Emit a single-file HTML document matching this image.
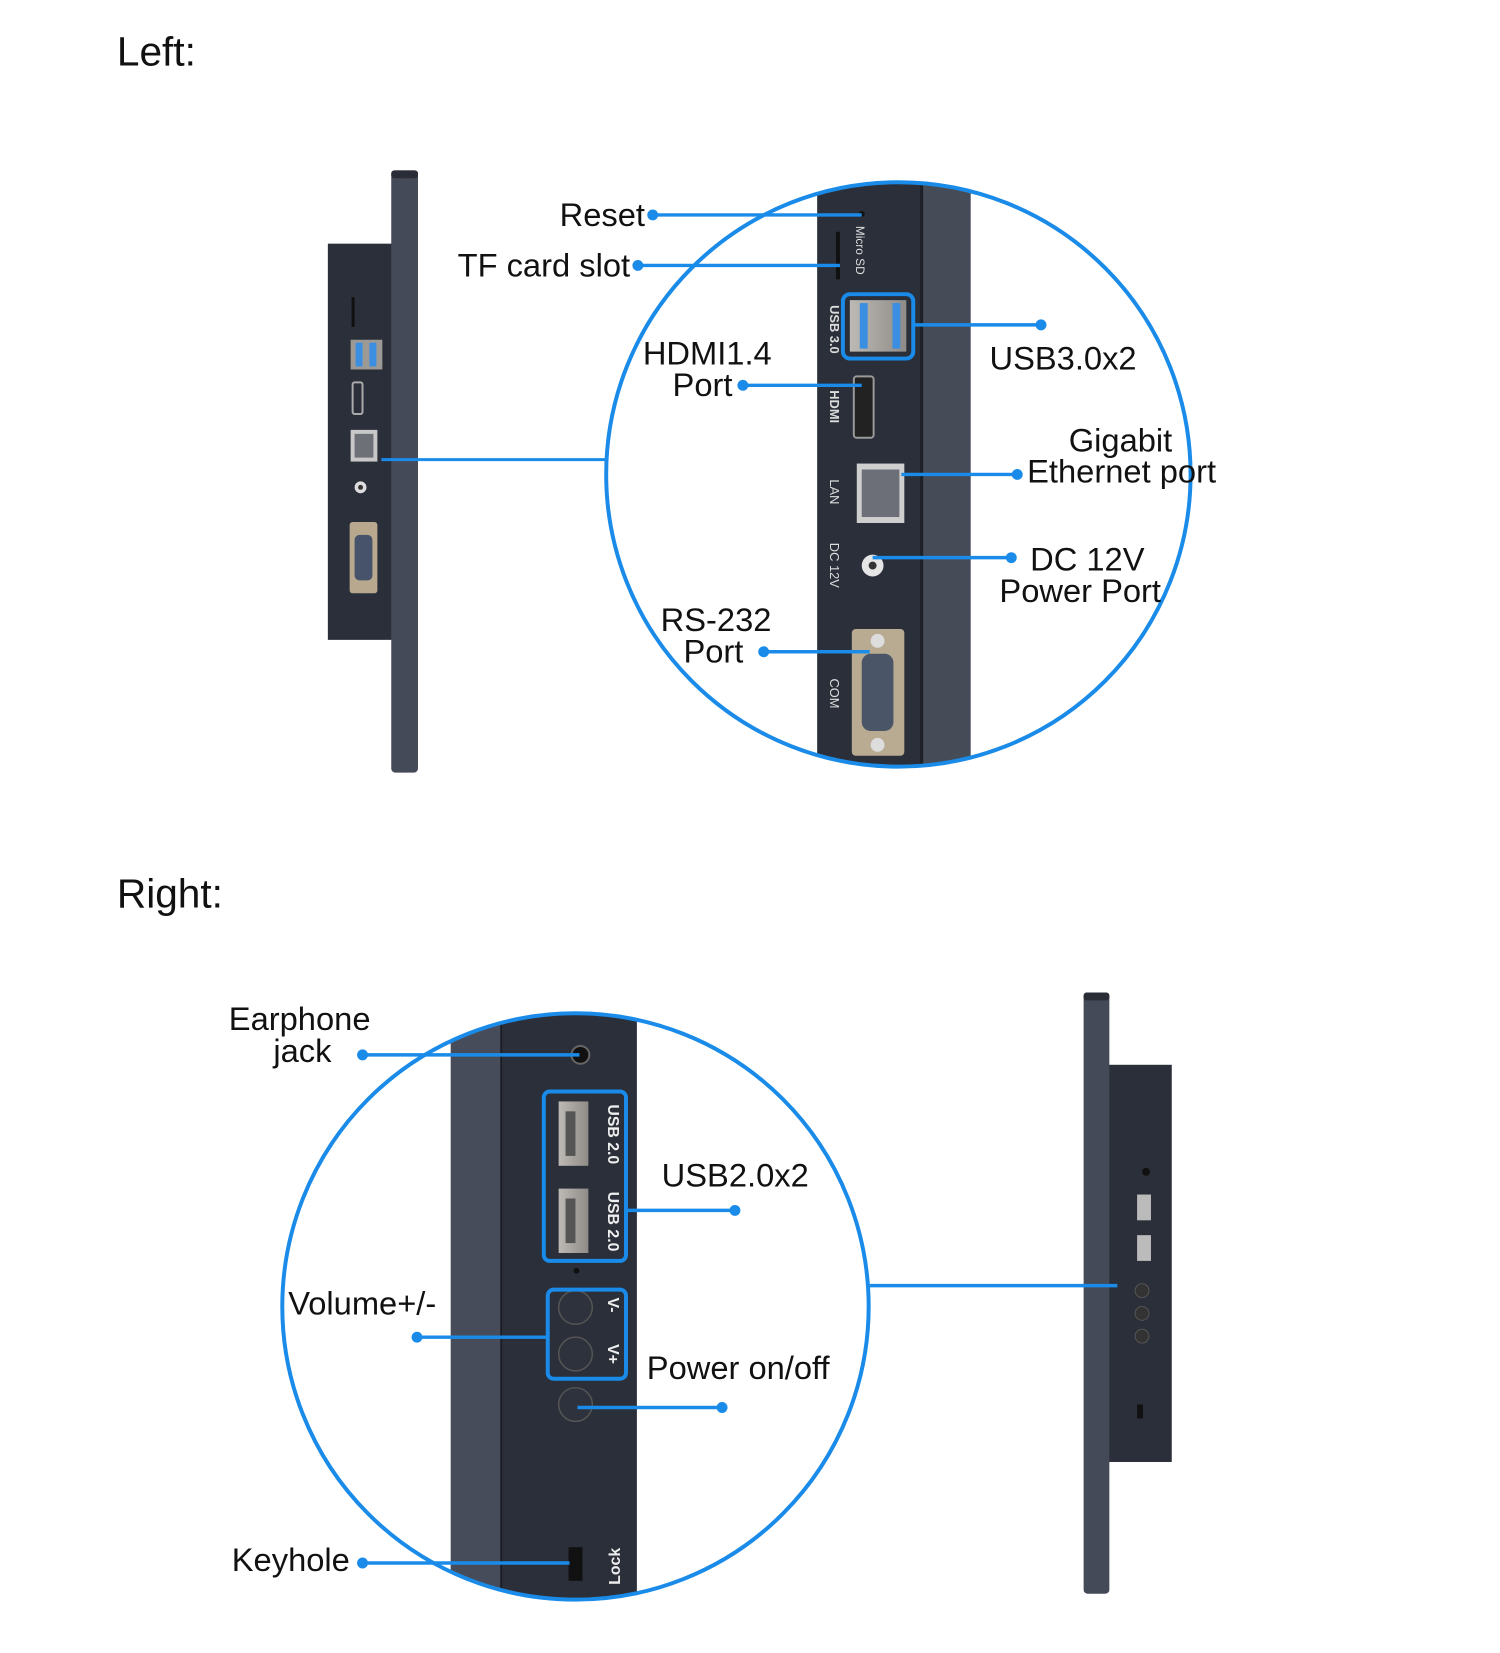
<!DOCTYPE html>
<html><head><meta charset="utf-8"><style>
html,body{margin:0;padding:0;background:#fff;}
svg{display:block;}
text{font-family:"Liberation Sans","DejaVu Sans",sans-serif;}
</style></head><body>
<svg width="1500" height="1653" viewBox="0 0 1500 1653" xmlns="http://www.w3.org/2000/svg">
<defs>
<clipPath id="c1"><circle cx="907" cy="479" r="295"/></clipPath>
<clipPath id="c2"><circle cx="581" cy="1319" r="296"/></clipPath>
<linearGradient id="usb" x1="0" x2="1"><stop offset="0" stop-color="#bdbab5"/><stop offset="1" stop-color="#8f8c88"/></linearGradient>
</defs>
<g transform="scale(0.9905)">
<g fill="#111" font-size="41">
<text x="118" y="66" style="font-weight:500">Left:</text>
<text x="118" y="916" style="font-weight:500">Right:</text>
</g>

<!-- Left small device -->
<rect x="331" y="246" width="66" height="400" fill="#2b2f3a"/>
<rect x="395" y="172" width="27" height="608" rx="4" fill="#454a58"/>
<rect x="395" y="172" width="27" height="8" rx="3" fill="#2a2d36"/>
<rect x="355" y="300" width="3" height="30" fill="#111"/>
<rect x="354" y="343" width="32" height="30" fill="#9d9a95"/>
<rect x="359" y="346" width="7" height="24" fill="#3b8ee0"/><rect x="373" y="346" width="7" height="24" fill="#3b8ee0"/>
<rect x="356" y="386" width="10" height="32" rx="2" fill="none" stroke="#aaa" stroke-width="2"/>
<rect x="354" y="434" width="27" height="32" fill="#c8c8c8"/><rect x="358" y="438" width="19" height="24" fill="#6e7078"/>
<circle cx="364" cy="492" r="6" fill="#ddd"/><circle cx="364" cy="492" r="2.5" fill="#333"/>
<rect x="353" y="527" width="28" height="72" rx="3" fill="#b8a88e"/><rect x="358" y="540" width="18" height="46" rx="5" fill="#46536a"/>
<line x1="385" y1="464" x2="612" y2="464" stroke="#1a8be8" stroke-width="3"/>

<!-- Left circle -->
<g clip-path="url(#c1)">
<rect x="825" y="180" width="107" height="600" fill="#2a2f3a"/>
<rect x="930" y="180" width="50" height="600" fill="#464b58"/>
<rect x="929" y="180" width="3" height="600" fill="#1c1f26"/>
<circle cx="870" cy="216" r="3" fill="#111"/>
<rect x="844" y="234" width="4" height="48" fill="#111"/>
<rect x="858" y="303" width="57" height="52" fill="url(#usb)"/>
<rect x="868" y="306" width="8" height="46" fill="#3b8ee0"/><rect x="901" y="306" width="8" height="46" fill="#3b8ee0"/>
<rect x="862" y="380" width="20" height="62" rx="3" fill="#222" stroke="#9a9a9a" stroke-width="2"/>
<rect x="865" y="468" width="48" height="60" fill="#cfcfcf"/><rect x="870" y="474" width="38" height="48" fill="#6c6f78"/>
<circle cx="881" cy="571" r="11" fill="#e5e5e5"/><circle cx="881" cy="571" r="4" fill="#333"/>
<rect x="860" y="635" width="53" height="128" rx="4" fill="#b9ab92"/><rect x="870" y="660" width="32" height="78" rx="9" fill="#4a5568"/>
<circle cx="886" cy="647" r="7" fill="#ddd"/><circle cx="886" cy="752" r="7" fill="#ddd"/>
<g fill="#ddd" font-size="12">
<text transform="translate(864,228) rotate(90)">Micro SD</text>
<text transform="translate(838,308) rotate(90)" font-weight="bold" font-size="13">USB 3.0</text>
<text transform="translate(838,394) rotate(90)" font-weight="bold" font-size="13">HDMI</text>
<text transform="translate(838,484) rotate(90)" font-size="13">LAN</text>
<text transform="translate(838,548) rotate(90)" font-size="13">DC 12V</text>
<text transform="translate(838,685) rotate(90)" font-size="13">COM</text>
</g>
</g>
<circle cx="907" cy="479" r="295" fill="none" stroke="#1a8be8" stroke-width="4"/>
<rect x="851" y="297" width="71" height="65" rx="7" fill="none" stroke="#1a8be8" stroke-width="4"/>

<g stroke="#1a8be8" stroke-width="3.5" fill="none">
<line x1="659" y1="217" x2="870" y2="217"/>
<line x1="644" y1="268" x2="848" y2="268"/>
<line x1="922" y1="328" x2="1051" y2="328"/>
<line x1="750" y1="389" x2="870" y2="389"/>
<line x1="910" y1="479" x2="1027" y2="479"/>
<line x1="881" y1="563" x2="1021" y2="563"/>
<line x1="771" y1="658" x2="878" y2="658"/>
</g>
<g fill="#1a8be8">
<circle cx="659" cy="217" r="5.5"/><circle cx="644" cy="268" r="5.5"/><circle cx="1051" cy="328" r="5.5"/>
<circle cx="750" cy="389" r="5.5"/><circle cx="1027" cy="479" r="5.5"/><circle cx="1021" cy="563" r="5.5"/><circle cx="771" cy="658" r="5.5"/>
</g>
<g fill="#111" font-size="33">
<text x="565" y="228">Reset</text>
<text x="462" y="279">TF card slot</text>
<text x="999" y="373">USB3.0x2</text>
<text x="649" y="368">HDMI1.4</text>
<text x="679" y="400">Port</text>
<text x="1079" y="456">Gigabit</text>
<text x="1037" y="487">Ethernet port</text>
<text x="1040" y="576">DC 12V</text>
<text x="1009" y="608">Power Port</text>
<text x="667" y="637">RS-232</text>
<text x="690" y="669">Port</text>
</g>

<!-- Right circle -->
<g clip-path="url(#c2)">
<rect x="455" y="1020" width="52" height="600" fill="#474c5a"/>
<rect x="505" y="1020" width="3" height="600" fill="#1c1f26"/>
<rect x="507" y="1020" width="136" height="600" fill="#2a2f3a"/>
<circle cx="586" cy="1065" r="9" fill="#111" stroke="#666" stroke-width="2"/>
<rect x="564" y="1112" width="30" height="65" fill="url(#usb)"/><rect x="571" y="1122" width="10" height="45" fill="#555"/>
<rect x="564" y="1200" width="30" height="65" fill="url(#usb)"/><rect x="571" y="1210" width="10" height="45" fill="#555"/>
<circle cx="582" cy="1283" r="3" fill="#111"/>
<circle cx="581" cy="1320" r="17" fill="#2e323c" stroke="#555" stroke-width="1.5"/>
<circle cx="581" cy="1367" r="17" fill="#2e323c" stroke="#555" stroke-width="1.5"/>
<circle cx="581" cy="1418" r="17" fill="#2e323c" stroke="#555" stroke-width="1.5"/>
<rect x="574" y="1562" width="14" height="34" fill="#111"/>
<g fill="#eee" font-size="16" font-weight="bold">
<text transform="translate(614,1115) rotate(90)">USB 2.0</text>
<text transform="translate(614,1203) rotate(90)">USB 2.0</text>
<text transform="translate(614,1310) rotate(90)">V-</text>
<text transform="translate(614,1357) rotate(90)">V+</text>
<text transform="translate(626,1600) rotate(-90)">Lock</text>
</g>
</g>
<circle cx="581" cy="1319" r="296" fill="none" stroke="#1a8be8" stroke-width="4"/>
<rect x="549" y="1102" width="83" height="171" rx="6" fill="none" stroke="#1a8be8" stroke-width="4"/>
<rect x="553" y="1302" width="79" height="90" rx="6" fill="none" stroke="#1a8be8" stroke-width="4"/>

<!-- Right small device -->
<rect x="1119" y="1075" width="64" height="401" fill="#2b2f3a"/>
<rect x="1094" y="1002" width="26" height="607" rx="4" fill="#454a58"/>
<rect x="1094" y="1002" width="26" height="8" rx="3" fill="#2a2d36"/>
<circle cx="1157" cy="1183" r="4" fill="#111"/>
<rect x="1148" y="1206" width="14" height="26" fill="#bbb"/>
<rect x="1148" y="1247" width="14" height="26" fill="#bbb"/>
<circle cx="1153" cy="1303" r="7" fill="#333" stroke="#555"/>
<circle cx="1153" cy="1326" r="7" fill="#333" stroke="#555"/>
<circle cx="1153" cy="1349" r="7" fill="#333" stroke="#555"/>
<rect x="1148" y="1418" width="6" height="14" fill="#111"/>

<g stroke="#1a8be8" stroke-width="3.5" fill="none">
<line x1="878" y1="1298" x2="1128" y2="1298"/>
<line x1="366" y1="1065" x2="585" y2="1065"/>
<line x1="632" y1="1222" x2="742" y2="1222"/>
<line x1="421" y1="1350" x2="553" y2="1350"/>
<line x1="583" y1="1421" x2="729" y2="1421"/>
<line x1="366" y1="1578" x2="575" y2="1578"/>
</g>
<g fill="#1a8be8">
<circle cx="366" cy="1065" r="5.5"/><circle cx="742" cy="1222" r="5.5"/><circle cx="421" cy="1350" r="5.5"/>
<circle cx="729" cy="1421" r="5.5"/><circle cx="366" cy="1578" r="5.5"/>
</g>
<g fill="#111" font-size="33">
<text x="231" y="1040">Earphone</text>
<text x="276" y="1072">jack</text>
<text x="668" y="1198">USB2.0x2</text>
<text x="291" y="1327">Volume+/-</text>
<text x="653" y="1392">Power on/off</text>
<text x="234" y="1586">Keyhole</text>
</g>
</g>
</svg>
</body></html>
